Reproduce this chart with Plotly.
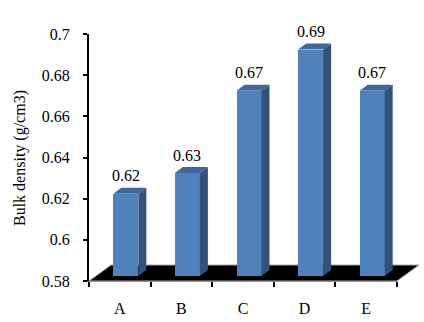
import plotly.graph_objects as go

categories = ["A", "B", "C", "D", "E"]
values = [0.62, 0.63, 0.67, 0.69, 0.67]
labels = ["0.62", "0.63", "0.67", "0.69", "0.67"]
y_ticks = [0.58, 0.6, 0.62, 0.64, 0.66, 0.68, 0.7]
y_min, y_max = 0.58, 0.7
title_y = "Bulk density (g/cm3)"

W, H = 424, 322
L, R, T, B = 89, 397, 34, 281
PX = (R - L) / len(categories)
PY = (B - T) / (y_max - y_min)
FONT = "Liberation Serif"

# hidden axes spanning the page with the same scale as the visible ones
def xr(dx): return [(0 - L - dx) / PX, (W - L - dx) / PX]
def yr(dy): return [y_min - (H - B + dy) / PY, y_min + (B - dy) / PY]

bar_w = 25 / PX
dx_u, dy_u = 8 / PX, 6 / PY
floor_dx, floor_dy = 22 / PX, 16 / PY
n = len(categories)
fig = go.Figure()

# axes carrying ticks and tick labels
fig.add_trace(go.Bar(x=categories, y=[None] * n, xaxis="x", yaxis="y", showlegend=False))

# floor
fig.add_trace(go.Scatter(
    x=[0, n, n + floor_dx, floor_dx, 0], y=[y_min, y_min, y_min + floor_dy, y_min + floor_dy, y_min],
    mode="lines", fill="toself", fillcolor="#000000", line=dict(color="#a6a6a6", width=1),
    xaxis="x2", yaxis="y2", hoverinfo="skip", showlegend=False))

# side and top faces
for i, v in enumerate(values):
    c = i + 0.5
    x0, x1 = c - bar_w / 2, c + bar_w / 2
    fig.add_trace(go.Scatter(
        x=[x1, x1 + dx_u, x1 + dx_u, x1, x1], y=[y_min, y_min + dy_u, v + dy_u, v, y_min],
        mode="lines", fill="toself", fillcolor="#335279", line=dict(width=0),
        xaxis="x3", yaxis="y3", hoverinfo="skip", showlegend=False))
    fig.add_trace(go.Scatter(
        x=[x0, x0 + dx_u, x1 + dx_u, x1, x0], y=[v, v + dy_u, v + dy_u, v, v],
        mode="lines", fill="toself", fillcolor="#3f6797", line=dict(width=0),
        xaxis="x3", yaxis="y3", hoverinfo="skip", showlegend=False))

# front faces
fig.add_trace(go.Bar(
    x=[i + 0.5 for i in range(n)], y=[v - y_min for v in values], base=y_min, width=bar_w,
    marker=dict(color="#4f81bd", line=dict(width=0)), xaxis="x3", yaxis="y3", showlegend=False))

for i, (v, t) in enumerate(zip(values, labels)):
    fig.add_annotation(x=i + 0.5, y=v, xref="x3", yref="y3", text=t, showarrow=False,
                       yanchor="middle", yshift=18, font=dict(family=FONT, size=16, color="#000000"))

fig.add_annotation(x=20 / W, y=1 - 158 / H, xref="paper", yref="paper", text=title_y, textangle=-90,
                   showarrow=False, xanchor="center", yanchor="middle",
                   font=dict(family=FONT, size=16, color="#000000"))

hidden = dict(visible=False, fixedrange=True)
fig.update_layout(
    width=W, height=H, margin=dict(l=0, r=0, t=0, b=0, autoexpand=False),
    paper_bgcolor="#ffffff", plot_bgcolor="rgba(0,0,0,0)", bargap=0, barmode="overlay",
    font=dict(family=FONT, size=16, color="#000000"),
    xaxis=dict(domain=[L / W, R / W], type="category", categoryorder="array", categoryarray=categories,
               tickson="boundaries", ticks="outside", ticklen=5, tickwidth=2, tickcolor="#000000",
               showline=True, linecolor="#808080", linewidth=1, showgrid=False, zeroline=False,
               anchor="y", ticklabelstandoff=13, range=[-0.5, n - 0.5], fixedrange=True),
    yaxis=dict(domain=[1 - B / H, 1 - T / H], range=[y_min, y_max], tickvals=y_ticks,
               ticktext=[f"{t:g}" for t in y_ticks], ticks="outside", ticklen=4, tickwidth=2,
               tickcolor="#000000", showline=True, linecolor="#000000", linewidth=2, showgrid=False,
               zeroline=False, anchor="x", ticklabelstandoff=10, fixedrange=True),
    xaxis2=dict(domain=[0, 1], range=xr(0), anchor="y2", **hidden),
    yaxis2=dict(domain=[0, 1], range=yr(0), anchor="x2", **hidden),
    xaxis3=dict(domain=[0, 1], range=xr(6), anchor="y3", **hidden),
    yaxis3=dict(domain=[0, 1], range=yr(5), anchor="x3", **hidden),
)
fig.write_html("out.html", config={"displayModeBar": False}, post_script="document.body.style.margin='0';")
